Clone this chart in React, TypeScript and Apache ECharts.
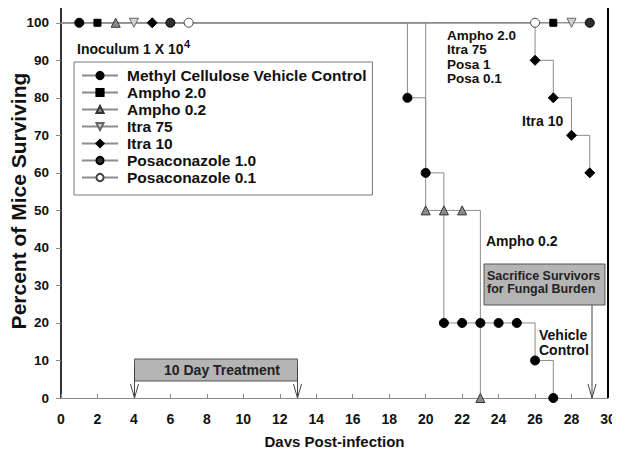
import React, { useEffect, useRef } from "react";
import * as echarts from "echarts";

const seriesNames = [
  "Methyl Cellulose Vehicle Control",
  "Ampho 2.0",
  "Ampho 0.2",
  "Itra 75",
  "Itra 10",
  "Posaconazole 1.0",
  "Posaconazole 0.1",
];

const controlDays = [0, 1, 19, 20, 21, 22, 23, 24, 25, 26, 27];
const controlPct = [100, 100, 80, 60, 20, 20, 20, 20, 20, 10, 0];
const ampho2Days = [0, 2, 27];
const ampho2Pct = [100, 100, 100];
const ampho02Days = [0, 3, 20, 21, 22, 23];
const ampho02Pct = [100, 100, 50, 50, 50, 0];
const itra75Days = [0, 4, 28];
const itra75Pct = [100, 100, 100];
const itra10Days = [0, 5, 26, 27, 28, 29];
const itra10Pct = [100, 100, 90, 80, 70, 60];
const posa1Days = [0, 6, 29];
const posa1Pct = [100, 100, 100];
const posa01Days = [0, 7, 26];
const posa01Pct = [100, 100, 100];

const xTickValues = [0, 2, 4, 6, 8, 10, 12, 14, 16, 18, 20, 22, 24, 26, 28, 30];
const yTickValues = [0, 10, 20, 30, 40, 50, 60, 70, 80, 90, 100];

const FONT = "'Liberation Sans', Arial, Helvetica, sans-serif";
const LINE_GRAY = "#8c8c8c";

function pairs(days: number[], pct: number[]) {
  return days.map((d, i) =>
    i === 0 ? { value: [d, pct[i]], symbol: "none" } : [d, pct[i]]
  );
}

export default function App() {
  const ref = useRef<HTMLDivElement>(null);

  useEffect(() => {
    if (!ref.current) return;
    const chart = echarts.init(ref.current, undefined, { renderer: "svg" });

    const mk = (
      name: string,
      days: number[],
      pct: number[],
      symbol: string,
      size: number,
      fill: string,
      border: string,
      rotate = 0
    ) => ({
      name,
      type: "line",
      step: "end",
      data: pairs(days, pct),
      symbol,
      symbolSize: size,
      symbolRotate: rotate,
      showSymbol: true,
      clip: false,
      lineStyle: { color: LINE_GRAY, width: 1 },
      itemStyle: { color: fill, borderColor: border, borderWidth: 1, opacity: 1 },
      emphasis: { disabled: true },
      z: 3,
    });

    const txt = (
      text: string,
      x: number,
      y: number,
      size: number,
      extra: any = {}
    ) => ({
      type: "text",
      x,
      y,
      z: 10,
      style: {
        text,
        fill: "#111",
        fontSize: size,
        fontWeight: "bold",
        fontFamily: FONT,
        align: "left",
        verticalAlign: "middle",
        textAlign: "left",
        textVerticalAlign: "middle",
        ...extra,
      },
    });

    const arrow = (x: number, yTop: number, yBot: number) => [
      {
        type: "line",
        z: 9,
        shape: { x1: x, y1: yTop, x2: x, y2: yBot },
        style: { stroke: "#444", lineWidth: 1 },
      },
      {
        type: "polyline",
        z: 9,
        shape: { points: [[x - 4, yBot - 14], [x, yBot], [x + 4, yBot - 14]] },
        style: { stroke: "#444", fill: "none", lineWidth: 1 },
      },
    ];

    const option: any = {
      animation: false,
      backgroundColor: "#fff",
      grid: {
        left: 61,
        right: 12,
        top: 4,
        bottom: 57,
        containLabel: false,
        outerBoundsMode: "none",
      },
      xAxis: {
        type: "value",
        min: 0,
        max: 30,
        interval: 2,
        name: "Days Post-infection",
        nameLocation: "middle",
        nameGap: 36,
        nameTextStyle: { fontSize: 15, fontWeight: "bold", fontFamily: FONT, color: "#111" },
        axisLine: { show: true, lineStyle: { color: "#8a8a8a", width: 1 } },
        axisTick: { show: true, inside: true, length: 4, lineStyle: { color: "#8a8a8a" } },
        axisLabel: {
          customValues: xTickValues,
          margin: 14,
          fontSize: 14,
          fontWeight: "bold",
          fontFamily: FONT,
          color: "#111",
        },
        splitLine: { show: false },
      },
      yAxis: {
        type: "value",
        min: 0,
        max: 105,
        name: "Percent of Mice Surviving",
        nameLocation: "middle",
        nameGap: 32,
        nameMoveOverlap: false,
        nameTextStyle: { fontSize: 21, fontWeight: "bold", fontFamily: FONT, color: "#111" },
        axisLine: { show: true, lineStyle: { color: "#000", width: 1.6 } },
        axisTick: {
          show: true,
          customValues: yTickValues,
          length: 5,
          lineStyle: { color: "#8a8a8a" },
        },
        axisLabel: {
          customValues: yTickValues,
          margin: 12,
          fontSize: 13.5,
          fontWeight: "bold",
          fontFamily: FONT,
          color: "#111",
        },
        splitLine: { show: false },
      },
      legend: {
        orient: "vertical",
        left: 74,
        top: 62,
        selectedMode: false,
        data: seriesNames,
        itemWidth: 36,
        itemHeight: 9,
        itemGap: 0,
        padding: [5, 6, 9, 7],
        borderColor: "#777",
        borderWidth: 1,
        textStyle: {
          fontSize: 15.5,
          fontWeight: "bold",
          fontFamily: FONT,
          color: "#111",
          lineHeight: 17,
          padding: [0, 0, 0, 4],
        },
      },
      series: [
        mk(seriesNames[0], controlDays, controlPct, "circle", 9, "#000", "#000"),
        mk(seriesNames[1], ampho2Days, ampho2Pct, "rect", 7, "#000", "#000"),
        mk(seriesNames[2], ampho02Days, ampho02Pct, "triangle", 9, "#8a8a8a", "#333"),
        mk(seriesNames[3], itra75Days, itra75Pct, "triangle", 9, "#d2d2d2", "#666", 180),
        mk(seriesNames[4], itra10Days, itra10Pct, "diamond", 10, "#000", "#000"),
        mk(seriesNames[5], posa1Days, posa1Pct, "circle", 9, "#2e2e2e", "#000"),
        mk(seriesNames[6], posa01Days, posa01Pct, "circle", 9, "#fff", "#444"),
      ],
      graphic: {
        elements: [
          {
            type: "line",
            z: 1,
            shape: { x1: 61, y1: 4, x2: 608, y2: 4 },
            style: { stroke: "#9a9a9a", lineWidth: 1 },
          },
          {
            type: "line",
            z: 1,
            shape: { x1: 608, y1: 4, x2: 608, y2: 398 },
            style: { stroke: "#000", lineWidth: 2 },
          },
          txt("Inoculum 1 X 10", 77, 49, 14),
          txt("4", 184, 44, 11),
          txt("Ampho 2.0", 447, 35, 13.5),
          txt("Itra 75", 447, 49.5, 13.5),
          txt("Posa 1", 447, 64, 13.5),
          txt("Posa 0.1", 447, 78.5, 13.5),
          txt("Itra 10", 522, 121, 14),
          txt("Ampho 0.2", 486, 241, 14),
          txt("Vehicle", 539, 335, 14),
          txt("Control", 539, 349.5, 14),
          {
            type: "rect",
            z: 8,
            shape: { x: 484, y: 264, width: 121, height: 41 },
            style: { fill: "#b4b4b4", stroke: "#555", lineWidth: 1 },
          },
          txt("Sacrifice Survivors", 487, 276, 12.5, { fill: "#222" }),
          txt("for Fungal Burden", 487, 289, 12.5, { fill: "#222" }),
          ...arrow(592, 305, 398),
          {
            type: "rect",
            z: 8,
            shape: { x: 134.5, y: 359, width: 163, height: 22 },
            style: { fill: "#b4b4b4", stroke: "#555", lineWidth: 1 },
          },
          txt("10 Day Treatment", 222, 370, 14, {
            align: "center",
            textAlign: "center",
            fill: "#222",
          }),
          ...arrow(134.5, 366, 398),
          ...arrow(297.5, 366, 398),
        ],
      },
    };

    chart.setOption(option);
    return () => chart.dispose();
  }, []);

  return <div ref={ref} style={{ width: 620, height: 455, margin: -8 }} />;
}
